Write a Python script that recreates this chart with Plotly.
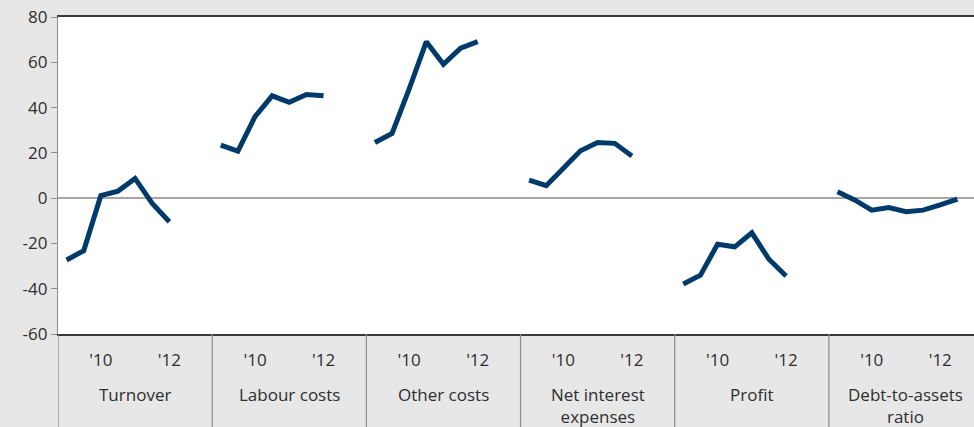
import plotly.graph_objects as go

groups = ["Turnover", "Labour costs", "Other costs", "Net interest<br>expenses", "Profit", "Debt-to-assets<br>ratio"]
slots_per_group = 9
tick_slots = [2, 6]
tick_labels = ["'10", "'12"]
y_ticks = [-60, -40, -20, 0, 20, 40, 60, 80]
y_tick_labels = ["-60", "-40", "-20", "0", "20", "40", "60", "80"]

turnover = [-27.3, -23.2, 1.1, 3.1, 8.7, -2.3, -10.4]
labour_costs = [23.4, 20.8, 36.0, 45.2, 42.3, 45.8, 45.2]
other_costs = [24.6, 28.6, 48.3, 69.1, 59.1, 66.2, 69.1]
net_interest = [8.0, 5.5, 13.2, 20.9, 24.6, 24.2, 18.6]
profit = [-37.9, -34.0, -20.4, -21.5, -15.3, -27.0, -34.4]
debt_to_assets = [2.8, -0.8, -5.3, -4.2, -6.0, -5.3, -3.0, -0.4]

series = [turnover, labour_costs, other_costs, net_interest, profit, debt_to_assets]

LINE = "#003a6b"
TXT = "#2e2e2e"
FONT = "Open Sans"
FS = 17

fig = go.Figure()
for g, vals in enumerate(series):
    xs = [g * slots_per_group + s for s in range(len(vals))]
    fig.add_trace(go.Scatter(x=xs, y=vals, mode="lines",
                             line=dict(color=LINE, width=5),
                             hoverinfo="skip", showlegend=False))

tickvals = [g * slots_per_group + s for g in range(len(groups)) for s in tick_slots]
ticktext = [t for g in range(len(groups)) for t in tick_labels]

plot_h = 427 - 17 - 93
shapes = []
for g in range(0, len(groups)):
    xb = g * slots_per_group - 0.5
    shapes.append(dict(type="line", xref="x", yref="paper", x0=xb, x1=xb,
                       y0=0, y1=-93 / plot_h, line=dict(color="#8c8c8c", width=1.2)))

annotations = []
for g, name in enumerate(groups):
    annotations.append(dict(x=g * slots_per_group + 4, y=-47 / plot_h, xref="x", yref="paper",
                            text=name, showarrow=False, xanchor="center", yanchor="top",
                            font=dict(family=FONT, size=FS, color=TXT)))

fig.update_layout(
    width=974, height=427,
    margin=dict(l=58, r=0, t=17, b=93),
    paper_bgcolor="#e7e7e7",
    plot_bgcolor="#ffffff",
    font=dict(family=FONT, size=FS, color=TXT),
    shapes=shapes,
    annotations=annotations,
    xaxis=dict(range=[-0.5, 52.97], tickvals=tickvals, ticktext=ticktext,
               showgrid=False, zeroline=False, showline=True, mirror=True,
               linecolor="#3a3a3a", linewidth=1.5, ticks="", ticklabelstandoff=10,
               automargin=False,
               tickfont=dict(family=FONT, size=FS, color=TXT)),
    yaxis=dict(range=[-60, 80], tickvals=y_ticks, ticktext=y_tick_labels,
               showgrid=False, zeroline=True, zerolinecolor="#a6a6a6", zerolinewidth=1.5,
               showline=True, linecolor="#8c8c8c", linewidth=1.2,
               ticks="outside", ticklen=6, tickcolor="#8c8c8c", automargin=False,
               tickfont=dict(family=FONT, size=FS, color=TXT)),
)

fig.write_html(
    "out.html",
    config={"displayModeBar": False},
    post_script="document.body.style.margin='0';document.body.style.padding='0';"
                "document.body.style.background='#e7e7e7';document.body.style.overflow='hidden';",
)
